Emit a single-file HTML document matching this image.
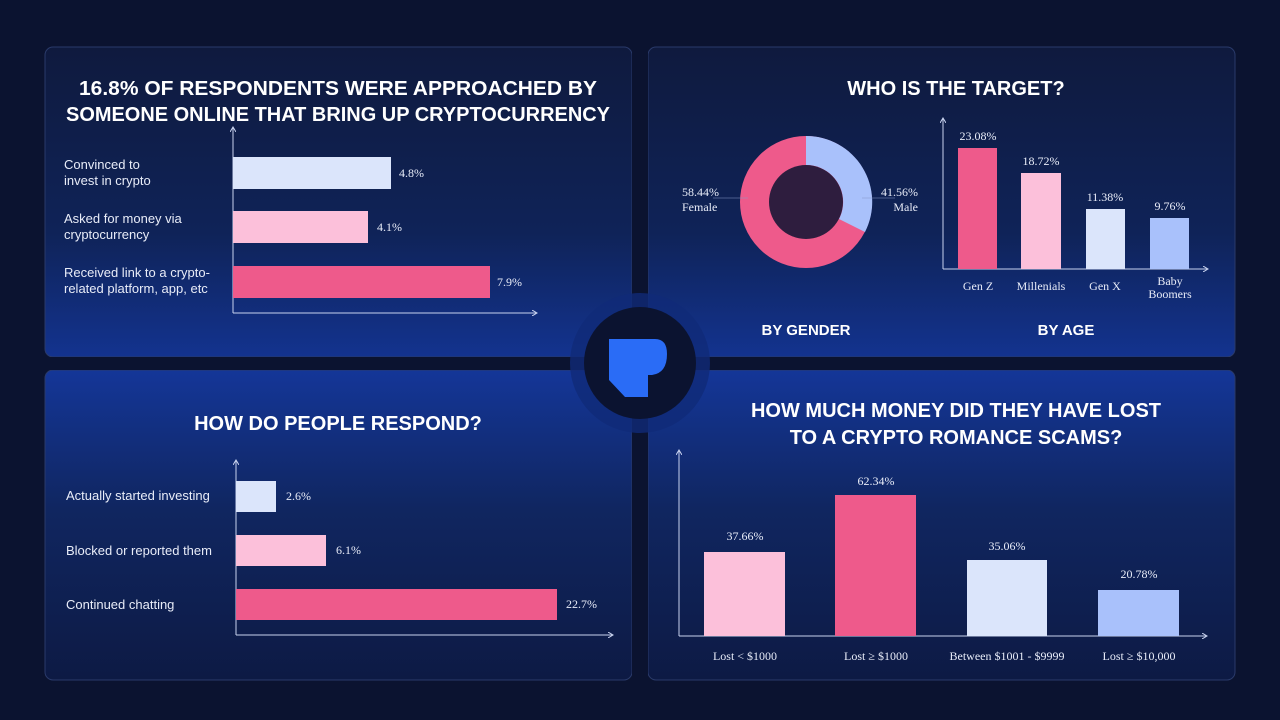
<!DOCTYPE html>
<html><head><meta charset="utf-8"><style>
html,body{margin:0;padding:0;background:#0b1330;}
svg{display:block}
.t{font-family:"Liberation Sans",sans-serif;font-weight:bold;fill:#fff;font-size:20px;text-anchor:middle}
.l{font-family:"Liberation Sans",sans-serif;fill:#e8ecf8;font-size:13px}
.v{font-family:"Liberation Serif",serif;fill:#e8ecf8;font-size:12px}
</style></head><body>
<svg width="1280" height="720" viewBox="0 0 1280 720">
<defs>
<linearGradient id="gt" x1="0" y1="0" x2="0" y2="1"><stop offset="0" stop-color="#0f1a3e"/><stop offset="0.6" stop-color="#0f2358"/><stop offset="1" stop-color="#13338f"/></linearGradient>
<linearGradient id="gb" x1="0" y1="0" x2="0" y2="1"><stop offset="0" stop-color="#143698"/><stop offset="0.45" stop-color="#102660"/><stop offset="1" stop-color="#0d1a44"/></linearGradient>
<marker id="ar" markerWidth="6" markerHeight="6" refX="5" refY="3" orient="auto"><path d="M0,0 L5,3 L0,6" fill="none" stroke="#c8d2ee" stroke-width="1"/></marker>
</defs>
<rect width="1280" height="720" fill="#0b1330"/>
<rect x="45" y="47" width="587" height="310" rx="8" fill="url(#gt)" stroke="#2a3a6a"/>
<rect x="648" y="47" width="587" height="310" rx="8" fill="url(#gt)" stroke="#2a3a6a"/>
<rect x="45" y="370" width="587" height="310" rx="8" fill="url(#gb)" stroke="#2a3a6a"/>
<rect x="648" y="370" width="587" height="310" rx="8" fill="url(#gb)" stroke="#2a3a6a"/>

<!-- TL -->
<text class="t" x="338" y="95" textLength="518" lengthAdjust="spacingAndGlyphs">16.8% OF RESPONDENTS WERE APPROACHED BY</text>
<text class="t" x="338" y="121" textLength="544" lengthAdjust="spacingAndGlyphs">SOMEONE ONLINE THAT BRING UP CRYPTOCURRENCY</text>
<g stroke="#c8d2ee" stroke-width="1" fill="none"><path d="M233,313 V127" marker-end="url(#ar)"/><path d="M233,313 H537" marker-end="url(#ar)"/></g>
<rect x="233" y="157" width="158" height="32" fill="#dbe5fb"/>
<rect x="233" y="211" width="135" height="32" fill="#fcc0da"/>
<rect x="233" y="266" width="257" height="32" fill="#ee5a8b"/>
<text class="v" x="399" y="177">4.8%</text><text class="v" x="377" y="231">4.1%</text><text class="v" x="497" y="286">7.9%</text>
<text class="l" x="64" y="169">Convinced to</text><text class="l" x="64" y="185">invest in crypto</text>
<text class="l" x="64" y="223">Asked for money via</text><text class="l" x="64" y="239">cryptocurrency</text>
<text class="l" x="64" y="277">Received link to a crypto-</text><text class="l" x="64" y="293">related platform, app, etc</text>

<!-- TR -->
<text class="t" x="956" y="95">WHO IS THE TARGET?</text>
<circle cx="806" cy="202" r="51" fill="none" stroke="#ee5a8b" stroke-width="30"/>
<path d="M806,136 A66,66 0 0 1 865,232 L839,219 A37,37 0 0 0 806,165 Z" fill="#a9c1fb"/>
<circle cx="806" cy="202" r="37" fill="#2e1d3e"/>
<line x1="713" y1="198" x2="748" y2="198" stroke="#8898c8" stroke-width="0.6"/>
<line x1="862" y1="198" x2="895" y2="198" stroke="#8898c8" stroke-width="0.6"/>
<text class="v" x="682" y="196">58.44%</text><text class="v" x="682" y="211">Female</text>
<text class="v" x="918" y="196" text-anchor="end">41.56%</text><text class="v" x="918" y="211" text-anchor="end">Male</text>
<g stroke="#c8d2ee" stroke-width="1" fill="none"><path d="M943,269 V118" marker-end="url(#ar)"/><path d="M943,269 H1208" marker-end="url(#ar)"/></g>
<rect x="958" y="148" width="39" height="121" fill="#ee5a8b"/>
<rect x="1021" y="173" width="40" height="96" fill="#fcc0da"/>
<rect x="1086" y="209" width="39" height="60" fill="#dbe5fb"/>
<rect x="1150" y="218" width="39" height="51" fill="#a9c1fb"/>
<g class="v" text-anchor="middle"><text x="978" y="140">23.08%</text><text x="1041" y="165">18.72%</text><text x="1105" y="201">11.38%</text><text x="1170" y="210">9.76%</text>
<text x="978" y="290">Gen Z</text><text x="1041" y="290">Millenials</text><text x="1105" y="290">Gen X</text><text x="1170" y="285">Baby</text><text x="1170" y="298">Boomers</text></g>
<text class="t" x="806" y="335" style="font-size:15px">BY GENDER</text>
<text class="t" x="1066" y="335" style="font-size:15px">BY AGE</text>

<!-- BL -->
<text class="t" x="338" y="430">HOW DO PEOPLE RESPOND?</text>
<g stroke="#c8d2ee" stroke-width="1" fill="none"><path d="M236,635 V460" marker-end="url(#ar)"/><path d="M236,635 H613" marker-end="url(#ar)"/></g>
<rect x="236" y="481" width="40" height="31" fill="#dbe5fb"/>
<rect x="236" y="535" width="90" height="31" fill="#fcc0da"/>
<rect x="236" y="589" width="321" height="31" fill="#ee5a8b"/>
<text class="v" x="286" y="500">2.6%</text><text class="v" x="336" y="554">6.1%</text><text class="v" x="566" y="608">22.7%</text>
<text class="l" x="66" y="500">Actually started investing</text>
<text class="l" x="66" y="555">Blocked or reported them</text>
<text class="l" x="66" y="609">Continued chatting</text>

<!-- BR -->
<text class="t" x="956" y="417">HOW MUCH MONEY DID THEY HAVE LOST</text>
<text class="t" x="956" y="444">TO A CRYPTO ROMANCE SCAMS?</text>
<g stroke="#c8d2ee" stroke-width="1" fill="none"><path d="M679,636 V450" marker-end="url(#ar)"/><path d="M679,636 H1207" marker-end="url(#ar)"/></g>
<rect x="704" y="552" width="81" height="84" fill="#fcc0da"/>
<rect x="835" y="495" width="81" height="141" fill="#ee5a8b"/>
<rect x="967" y="560" width="80" height="76" fill="#dbe5fb"/>
<rect x="1098" y="590" width="81" height="46" fill="#a9c1fb"/>
<g class="v" text-anchor="middle"><text x="745" y="540">37.66%</text><text x="876" y="485">62.34%</text><text x="1007" y="550">35.06%</text><text x="1139" y="578">20.78%</text>
<text x="745" y="660">Lost &lt; $1000</text><text x="876" y="660">Lost ≥ $1000</text><text x="1007" y="660">Between $1001 - $9999</text><text x="1139" y="660">Lost ≥ $10,000</text></g>

<!-- center logo -->
<rect x="632" y="47" width="16" height="633" fill="#0b1330"/>
<rect x="45" y="357" width="1190" height="13" fill="#0b1330"/>
<circle cx="640" cy="363" r="70" fill="#102a78" opacity="0.8"/>
<circle cx="640" cy="363" r="56" fill="#0b1330"/>
<path d="M609,339 H655 Q667,339 667,354 Q667,373 652,375 L648,375 L648,397 L625,397 L609,380 Z" fill="#2a6cf6"/>
</svg>
</body></html>
